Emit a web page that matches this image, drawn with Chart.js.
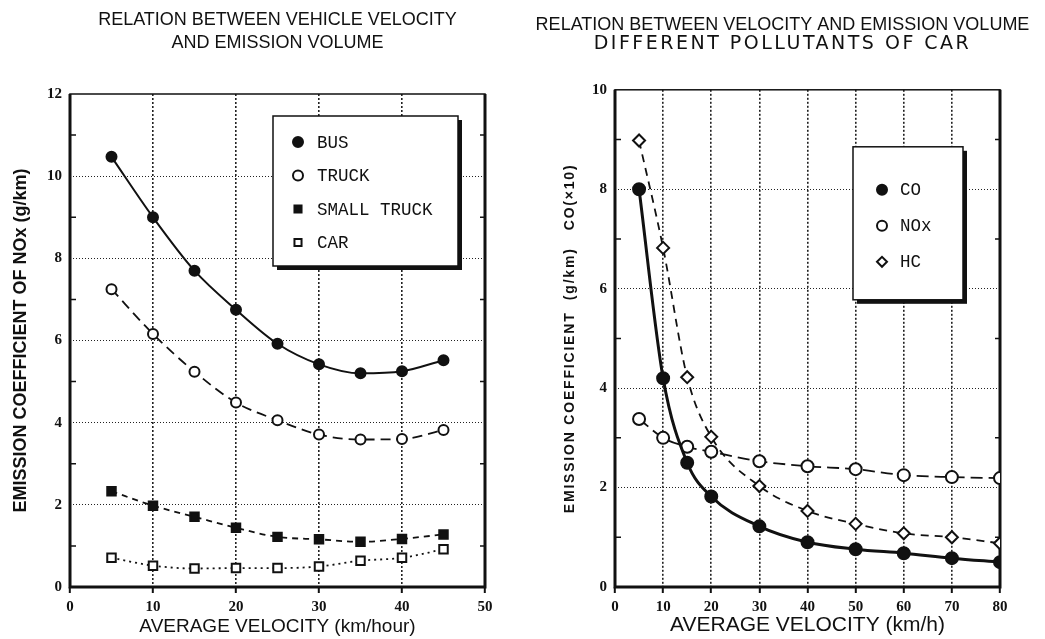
<!DOCTYPE html>
<html>
<head>
<meta charset="utf-8">
<script src="https://cdn.jsdelivr.net/npm/chart.js@4/dist/chart.umd.min.js"></script>
<style>
body { margin: 0; background: #fff; }
#wrap { position: relative; width: 1045px; height: 639px; }
#left { position: absolute; left: 0; top: 0; }
#right { position: absolute; left: 520px; top: 0; }
</style>
</head>
<body>
<div id="wrap">
<canvas id="left" width="520" height="639"></canvas>
<canvas id="right" width="525" height="639"></canvas>
</div>
<script>
// left chart - NOx by vehicle type
const speedA = [5, 10, 15, 20, 25, 30, 35, 40, 45];
const bus = [10.47, 9.0, 7.7, 6.75, 5.92, 5.42, 5.2, 5.25, 5.52];
const truck = [7.25, 6.16, 5.24, 4.49, 4.06, 3.71, 3.59, 3.6, 3.82];
const smallTruck = [2.33, 1.98, 1.71, 1.44, 1.22, 1.16, 1.1, 1.17, 1.28];
const car = [0.71, 0.52, 0.45, 0.46, 0.46, 0.5, 0.64, 0.71, 0.92];
const xTicksA = [0, 10, 20, 30, 40, 50];
const yTicksA = [0, 2, 4, 6, 8, 10, 12];

// right chart - pollutants of car
const speedB = [5, 10, 15, 20, 30, 40, 50, 60, 70, 80];
const co = [8.0, 4.2, 2.5, 1.82, 1.22, 0.9, 0.76, 0.68, 0.58, 0.5];
const nox = [3.38, 3.0, 2.82, 2.72, 2.53, 2.43, 2.37, 2.25, 2.21, 2.19];
const hc = [8.98, 6.82, 4.22, 3.02, 2.03, 1.53, 1.27, 1.08, 1.0, 0.88];
const xTicksB = [0, 10, 20, 30, 40, 50, 60, 70, 80];
const yTicksB = [0, 2, 4, 6, 8, 10];

const INK = '#111';
const SANS = "'Liberation Sans', Arial, sans-serif";
const SERIF = "'Liberation Serif', 'DejaVu Serif', serif";

function pts(xs, ys) {
    return xs.map((x, i) => ({ x: x, y: ys[i] }));
}

function series(label, data, style, filled, dash, width, radius) {
    return {
        label: label,
        data: data,
        borderColor: INK,
        borderWidth: width,
        borderDash: dash,
        pointStyle: style,
        pointRadius: radius,
        pointBorderWidth: 2,
        pointBorderColor: INK,
        pointBackgroundColor: filled ? INK : '#fff',
        cubicInterpolationMode: 'monotone',
        fill: false
    };
}

function spaced(obj, method, px) {
    if (!obj || obj._spaced) return;
    const orig = obj[method];
    obj[method] = function () {
        this.ctx.save();
        this.ctx.letterSpacing = px + 'px';
        orig.apply(this, arguments);
        this.ctx.restore();
    };
    obj._spaced = true;
}

// frame, minor ticks and boxed legend
const decor = {
    id: 'decor',
    beforeDraw(chart, args, o) {
        // the scan has wide letter spacing on some texts
        if (o.titleSpacing) spaced(chart.scales.y, 'drawTitle', o.titleSpacing);
        if (o.subSpacing) {
            const sub = chart.options.plugins.subtitle.text;
            chart.boxes.forEach(b => {
                if (b.options && b.options.text === sub && b !== chart.titleBlock) spaced(b, 'draw', o.subSpacing);
            });
        }
    },
    beforeDatasetsDraw(chart) {
        const { ctx, chartArea: a } = chart;
        const ys = chart.scales.y;
        ctx.save();
        ctx.strokeStyle = INK;
        ctx.lineWidth = 1.5;
        ctx.strokeRect(a.left, a.top, a.right - a.left, a.bottom - a.top);
        ctx.lineWidth = 3;
        ctx.beginPath();
        ctx.moveTo(a.left, a.top);
        ctx.lineTo(a.left, a.bottom);
        ctx.lineTo(a.right, a.bottom);
        ctx.lineTo(a.right, a.top);
        ctx.stroke();
        ctx.lineWidth = 1.5;
        for (let v = ys.min + 1; v < ys.max; v += 2) {
            const py = ys.getPixelForValue(v);
            ctx.beginPath();
            ctx.moveTo(a.left, py);
            ctx.lineTo(a.left + 6, py);
            ctx.moveTo(a.right, py);
            ctx.lineTo(a.right - 5, py);
            ctx.stroke();
        }
        ctx.restore();
    },
    afterDatasetsDraw(chart, args, o) {
        const { ctx, chartArea: a } = chart;
        const x = a.left + o.x, y = a.top + o.y;
        ctx.save();
        ctx.fillStyle = INK;
        ctx.fillRect(x + 4, y + 4, o.w, o.h);
        ctx.fillStyle = '#fff';
        ctx.fillRect(x, y, o.w, o.h);
        ctx.strokeStyle = INK;
        ctx.lineWidth = 1.5;
        ctx.strokeRect(x, y, o.w, o.h);
        ctx.font = o.font;
        ctx.textBaseline = 'middle';
        chart.data.datasets.forEach((ds, i) => {
            const cy = y + o.first + i * o.gap;
            ctx.fillStyle = ds.pointBackgroundColor;
            ctx.strokeStyle = INK;
            ctx.lineWidth = 2;
            Chart.helpers.drawPoint(ctx, { pointStyle: ds.pointStyle, radius: 5, borderWidth: 2, rotation: 0 }, x + o.mark, cy);
            ctx.fillStyle = INK;
            ctx.fillText(ds.label, x + o.text, cy + 1);
        });
        ctx.restore();
    }
};

function axes(xTicks, yTicks, xTitle, xTitleSize, yTitle, yWidth, yTitlePad, yTitleSize) {
    const gridColor = (c) => (c.tick.value === c.scale.min || c.tick.value === c.scale.max) ? 'rgba(0,0,0,0)' : '#222';
    return {
        x: {
            type: 'linear',
            min: xTicks[0],
            max: xTicks[xTicks.length - 1],
            afterBuildTicks: (s) => { s.ticks = xTicks.map(v => ({ value: v })); },
            afterFit: (s) => { s.height = 52; },
            grid: { color: gridColor, lineWidth: 1.6, drawTicks: true, tickLength: 6, tickColor: INK, tickWidth: 2 },
            border: { display: false, dash: [2, 2] },
            ticks: { color: INK, font: { family: SERIF, size: 15, weight: 'bold' }, padding: 5, maxRotation: 0 },
            title: { display: true, text: xTitle, color: INK, font: { family: SANS, size: xTitleSize }, padding: { top: 0, bottom: 1 } }
        },
        y: {
            type: 'linear',
            min: yTicks[0],
            max: yTicks[yTicks.length - 1],
            afterBuildTicks: (s) => { s.ticks = yTicks.map(v => ({ value: v })); },
            afterFit: (s) => { s.width = yWidth; },
            grid: { color: gridColor, lineWidth: 1, drawTicks: false },
            border: { display: false, dash: [1, 2] },
            ticks: { color: INK, font: { family: SERIF, size: 15, weight: 'bold' }, padding: 8 },
            title: { display: true, text: yTitle, color: INK, font: { family: SANS, size: yTitleSize, weight: 'bold' }, padding: { top: yTitlePad, bottom: 0 } }
        }
    };
}

new Chart(document.getElementById('left'), {
    type: 'line',
    data: {
        datasets: [
            series('BUS', pts(speedA, bus), 'circle', true, [], 2, 5),
            series('TRUCK', pts(speedA, truck), 'circle', false, [10, 6], 1.8, 5),
            series('SMALL TRUCK', pts(speedA, smallTruck), 'rect', true, [6, 5], 1.8, 6),
            series('CAR', pts(speedA, car), 'rect', false, [2, 4], 1.8, 6)
        ]
    },
    options: {
        responsive: false,
        animation: false,
        layout: { padding: { left: 0, right: 35, top: 0, bottom: 0 } },
        scales: axes(xTicksA, yTicksA, 'AVERAGE VELOCITY (km/hour)', 19, 'EMISSION COEFFICIENT OF NOx (g/km)', 70, 10, 18),
        plugins: {
            legend: { display: false },
            tooltip: { enabled: false },
            title: {
                display: true,
                fullSize: false,
                text: ['RELATION BETWEEN VEHICLE VELOCITY', 'AND EMISSION VOLUME'],
                color: INK,
                font: { family: SANS, size: 18, weight: 'normal', lineHeight: 1.25 },
                padding: { top: 9, bottom: 40 }
            },
            decor: { x: 203, y: 22, w: 185, h: 150, first: 26, gap: 33.5, mark: 25, text: 44, font: "17.5px 'Liberation Mono', monospace" }
        }
    },
    plugins: [decor]
});

const rightScales = axes(xTicksB, yTicksB, 'AVERAGE VELOCITY (km/h)', 21, 'EMISSION COEFFICIENT  (g/km)   CO(×10)', 95, 42, 14);
// empty right-hand strip so the title centres on the whole panel
rightScales.y2 = {
    type: 'linear', position: 'right', min: 0, max: 1,
    afterFit: (s) => { s.width = 45; },
    grid: { display: false }, border: { display: false }, ticks: { display: false }
};

new Chart(document.getElementById('right'), {
    type: 'line',
    data: {
        datasets: [
            series('CO', pts(speedB, co), 'circle', true, [], 3, 6),
            series('NOx', pts(speedB, nox), 'circle', false, [12, 6], 1.8, 6),
            series('HC', pts(speedB, hc), 'rectRot', false, [8, 6], 1.8, 6)
        ]
    },
    options: {
        responsive: false,
        animation: false,
        layout: { padding: 0 },
        scales: rightScales,
        plugins: {
            legend: { display: false },
            tooltip: { enabled: false },
            title: {
                display: true,
                text: 'RELATION BETWEEN VELOCITY AND EMISSION VOLUME',
                color: INK,
                font: { family: SANS, size: 18, weight: 'normal', lineHeight: 1.1 },
                padding: { top: 15, bottom: 0 }
            },
            subtitle: {
                display: true,
                text: 'DIFFERENT POLLUTANTS OF CAR',
                color: INK,
                font: { family: "'DejaVu Sans', sans-serif", size: 19, weight: 'normal', lineHeight: 1.0 },
                padding: { top: 0, bottom: 36 }
            },
            decor: { x: 238, y: 57, w: 110, h: 153, first: 43, gap: 36, mark: 29, text: 47, font: "17.5px 'Liberation Mono', monospace", titleSpacing: 1.8, subSpacing: 2.5 }
        }
    },
    plugins: [decor]
});
</script>
</body>
</html>
